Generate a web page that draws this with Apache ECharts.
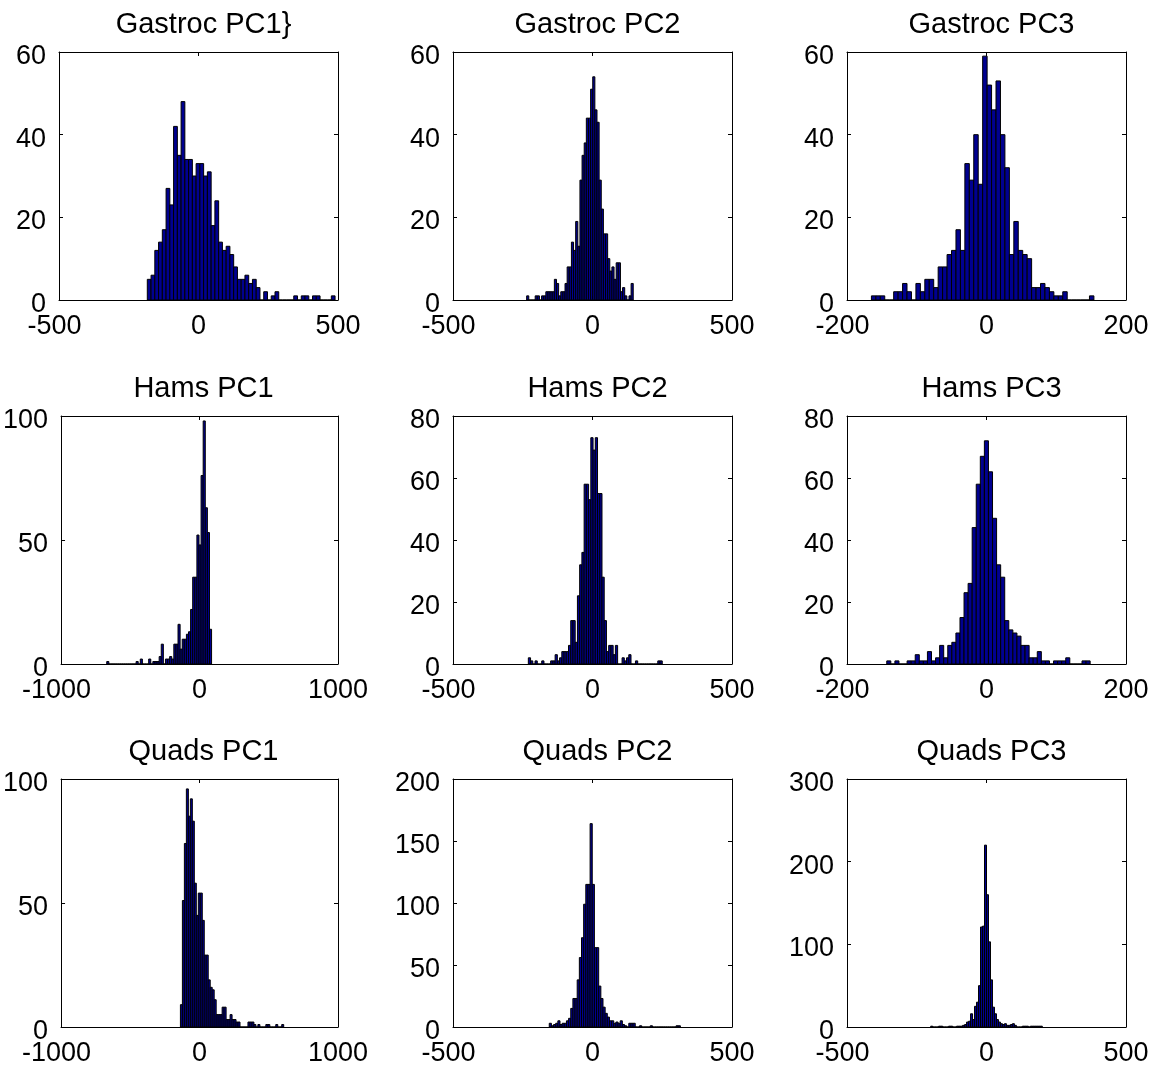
<!DOCTYPE html>
<html>
<head>
<meta charset="utf-8">
<script src="https://cdn.jsdelivr.net/npm/echarts@6/dist/echarts.min.js"></script>
<style>
  html, body { margin: 0; padding: 0; background: #ffffff; }
  #chart { width: 1163px; height: 1070px; }
</style>
</head>
<body>
<div id="chart"></div>
<script>
// Panel titles, row by row
const panelTitles = [
  'Gastroc PC1}', 'Gastroc PC2', 'Gastroc PC3',
  'Hams PC1', 'Hams PC2', 'Hams PC3',
  'Quads PC1', 'Quads PC2', 'Quads PC3'
];

// Histogram counts per panel (equal-width bins spanning binRanges)
const gastrocPC1 = [5, 6, 12, 14, 17, 27, 23, 42, 35, 48, 34, 34, 30, 33, 33, 30, 31, 18, 24, 14,
  12, 13, 11, 8, 5, 5, 6, 4, 5, 3, 0, 2, 0, 1, 2, 0, 0, 0, 0, 1,
  0, 1, 1, 0, 1, 1, 0, 0, 0, 1];
const gastrocPC2 = [1, 0, 0, 0, 1, 1, 0, 1, 1, 2, 2, 2, 2, 5, 4, 1, 2, 2, 4, 8,
  8, 14, 12, 19, 13, 29, 35, 38, 44, 44, 51, 54, 46, 43, 29, 22, 16, 16, 10, 7,
  8, 5, 9, 9, 2, 3, 1, 0, 1, 4];
const gastrocPC3 = [1, 1, 1, 0, 0, 2, 2, 4, 2, 0, 4, 2, 5, 5, 3, 8, 8, 11, 12, 17,
  12, 33, 29, 40, 28, 59, 52, 46, 53, 40, 32, 11, 19, 12, 11, 10, 3, 3, 4, 3,
  2, 1, 1, 2, 0, 0, 0, 0, 0, 1];
const hamsPC1 = [1, 0, 0, 0, 0, 0, 0, 0, 0, 0, 0, 0, 0, 0, 1, 0, 2, 0, 0, 0,
  2, 0, 1, 1, 1, 3, 8, 0, 2, 2, 3, 2, 8, 8, 16, 6, 10, 10, 12, 13,
  22, 35, 35, 52, 48, 76, 98, 63, 53, 14];
const hamsPC2 = [2, 1, 0, 1, 0, 0, 1, 0, 0, 0, 1, 1, 3, 1, 2, 4, 4, 4, 6, 14,
  14, 7, 22, 32, 36, 58, 58, 53, 73, 69, 73, 55, 55, 28, 14, 4, 6, 6, 3, 6,
  0, 0, 2, 1, 2, 3, 0, 0, 1, 0, 0, 0, 0, 0, 0, 0, 0, 0, 1, 1];
const hamsPC3 = [1, 0, 1, 0, 0, 1, 1, 3, 1, 1, 4, 1, 2, 6, 2, 6, 7, 10, 15, 23,
  26, 44, 58, 67, 72, 62, 47, 32, 28, 14, 11, 10, 9, 6, 6, 2, 2, 4, 1, 1,
  0, 1, 1, 1, 2, 0, 0, 0, 1, 1];
const quadsPC1 = [9, 51, 74, 96, 85, 92, 83, 58, 45, 54, 54, 43, 29, 29, 19, 16, 15, 11, 5, 5,
  5, 8, 8, 3, 3, 5, 3, 3, 2, 2, 0, 0, 0, 0, 2, 2, 2, 1, 0, 1,
  0, 0, 0, 1, 1, 0, 0, 0, 1, 0, 0, 1];
const quadsPC2 = [3, 1, 2, 3, 5, 2, 3, 3, 5, 7, 15, 23, 23, 38, 56, 72, 99, 115, 115, 164,
  115, 64, 64, 33, 23, 16, 11, 8, 5, 5, 3, 4, 3, 5, 2, 1, 0, 3, 3, 3,
  0, 0, 1, 0, 0, 0, 0, 1, 0, 0, 0, 0, 0, 0, 0, 0, 0, 0, 0, 1, 1];
const quadsPC3 = [1, 0, 0, 0, 1, 1, 0, 0, 0, 1, 1, 0, 0, 1, 1, 1, 2, 3, 6, 7,
  16, 9, 25, 30, 50, 121, 122, 220, 160, 103, 57, 24, 16, 9, 6, 4, 3, 4, 2, 2,
  3, 4, 2, 0, 0, 0, 1, 1, 1, 0, 1, 1, 1, 1, 1, 1];

const panelCounts = [gastrocPC1, gastrocPC2, gastrocPC3, hamsPC1, hamsPC2, hamsPC3, quadsPC1, quadsPC2, quadsPC3];

// Lower and upper edge of the binned data in each panel
const binRanges = [
  [-183.5, 489.5], [-236, 146], [-165, 154],
  [-670, 87], [-230, 250], [-143, 148.6],
  [-138, 608], [-155, 315], [-200, 200]
];

// Axis extents and tick spacing: [min, max, interval]
const xTicks = [
  [-500, 500, 500], [-500, 500, 500], [-200, 200, 200],
  [-1000, 1000, 1000], [-500, 500, 500], [-200, 200, 200],
  [-1000, 1000, 1000], [-500, 500, 500], [-500, 500, 500]
];
const yTicks = [
  [0, 60, 20], [0, 60, 20], [0, 60, 20],
  [0, 100, 50], [0, 80, 20], [0, 80, 20],
  [0, 100, 50], [0, 200, 50], [0, 300, 100]
];

const FONT = '"Liberation Sans", Arial, Helvetica, sans-serif';
const colLeft = [59, 453, 847];
const rowTop = [52, 416, 779];
const plotW = 279;
const plotH = 248;

function renderBar(params, api) {
  const topLeft = api.coord([api.value(0), api.value(2)]);
  const bottomRight = api.coord([api.value(1), 0]);
  return {
    type: 'rect',
    shape: {
      x: topLeft[0],
      y: topLeft[1],
      width: bottomRight[0] - topLeft[0],
      height: bottomRight[1] - topLeft[1]
    },
    style: { fill: '#000090', stroke: '#000000', lineWidth: 1 }
  };
}

// Negative labels keep their digits centred on the tick, the minus hangs to the left
function tickText(v) {
  return v < 0 ? '{neg|' + v + '}' : '{pos|' + v + '}';
}
const labelRich = {
  neg: { fontSize: 27, fontFamily: FONT, color: '#000', padding: [0, 9, 0, 0] },
  pos: { fontSize: 27, fontFamily: FONT, color: '#000' }
};

const grids = [], xAxes = [], yAxes = [], series = [], titles = [];

panelCounts.forEach((counts, k) => {
  const col = k % 3, row = Math.floor(k / 3);
  grids.push({ left: colLeft[col], top: rowTop[row], width: plotW, height: plotH, show: false });

  const [xMin, xMax, xInt] = xTicks[k];
  const [yMin, yMax, yInt] = yTicks[k];
  const lineStyle = { color: '#000000', width: 1 };

  // bottom axis with labels, top axis mirrors the ticks
  xAxes.push({
    type: 'value', gridIndex: k, position: 'bottom', min: xMin, max: xMax, interval: xInt,
    axisLine: { show: true, onZero: false, lineStyle },
    axisTick: { show: true, inside: true, length: 4, lineStyle },
    axisLabel: { show: true, margin: 13, formatter: tickText, rich: labelRich, fontSize: 27, fontFamily: FONT, color: '#000' },
    splitLine: { show: false }
  });
  xAxes.push({
    type: 'value', gridIndex: k, position: 'top', min: xMin, max: xMax, interval: xInt,
    axisLine: { show: true, onZero: false, lineStyle },
    axisTick: { show: true, inside: true, length: 4, lineStyle },
    axisLabel: { show: false },
    splitLine: { show: false }
  });
  // left axis with labels (sitting slightly below their ticks), right axis mirrors the ticks
  yAxes.push({
    type: 'value', gridIndex: k, position: 'left', min: yMin, max: yMax, interval: yInt,
    axisLine: { show: true, onZero: false, lineStyle },
    axisTick: { show: true, inside: true, length: 4, lineStyle },
    axisLabel: { show: true, margin: 13, fontSize: 27, fontFamily: FONT, color: '#000', verticalAlign: 'top', lineHeight: 9 },
    splitLine: { show: false }
  });
  yAxes.push({
    type: 'value', gridIndex: k, position: 'right', min: yMin, max: yMax, interval: yInt,
    axisLine: { show: true, onZero: false, lineStyle },
    axisTick: { show: true, inside: true, length: 4, lineStyle },
    axisLabel: { show: false },
    splitLine: { show: false }
  });

  const [lo, hi] = binRanges[k];
  const w = (hi - lo) / counts.length;
  const bins = counts.map((c, i) => [lo + i * w, lo + (i + 1) * w, c]);

  series.push({
    type: 'custom',
    name: panelTitles[k],
    xAxisIndex: 2 * k,
    yAxisIndex: 2 * k,
    renderItem: renderBar,
    encode: { x: [0, 1], y: 2 },
    data: bins,
    silent: true,
    animation: false
  });

  titles.push({
    text: panelTitles[k],
    left: colLeft[col] + plotW / 2,
    top: rowTop[row] - 47,
    textAlign: 'center',
    textStyle: { fontSize: 29, fontWeight: 'normal', fontFamily: FONT, color: '#000' }
  });
});

const chart = echarts.init(document.getElementById('chart'), null, { renderer: 'canvas' });
chart.setOption({
  backgroundColor: '#ffffff',
  animation: false,
  title: titles,
  grid: grids,
  xAxis: xAxes,
  yAxis: yAxes,
  series: series
});
</script>
</body>
</html>
